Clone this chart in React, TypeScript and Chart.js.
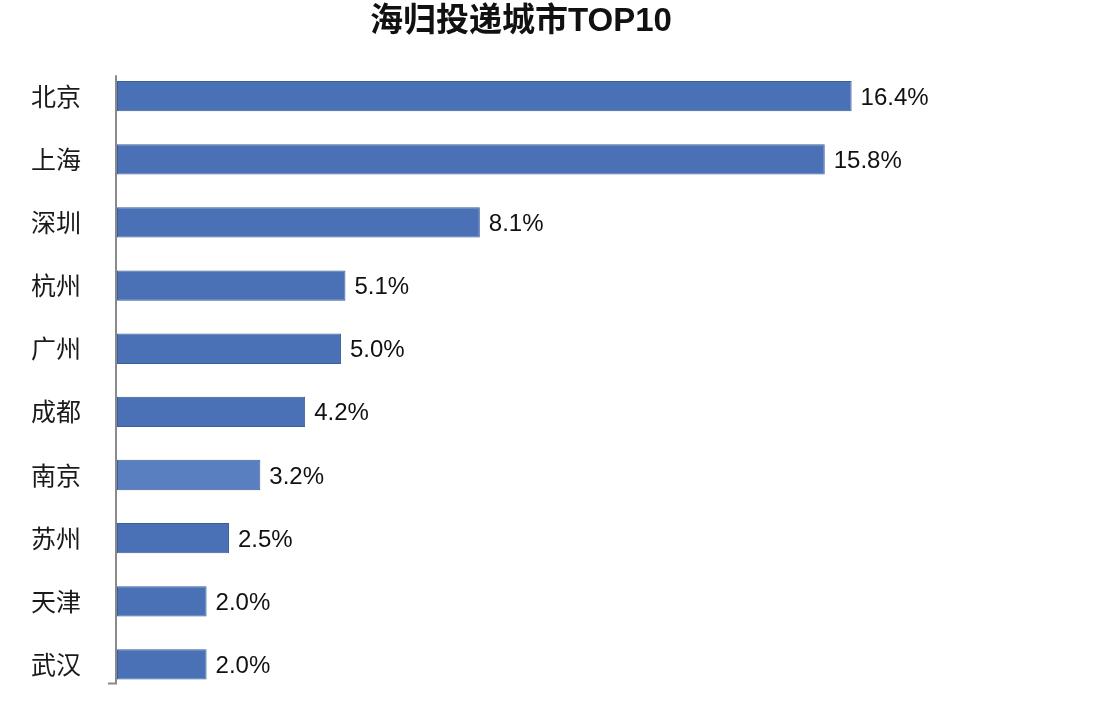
import React, { useEffect, useRef } from "react";
import { Chart, registerables } from "chart.js";

Chart.register(...registerables);

const titleText = "海归投递城市TOP10";
const cities = ["北京", "上海", "深圳", "杭州", "广州", "成都", "南京", "苏州", "天津", "武汉"];
const shares = [16.4, 15.8, 8.1, 5.1, 5.0, 4.2, 3.2, 2.5, 2.0, 2.0];
const barColors = ["#4a71b5", "#4a71b5", "#4a71b5", "#4a71b5", "#4a71b5", "#4a71b5", "#5a7fc0", "#4a71b5", "#4a71b5", "#4a71b5"];

const valueLabels = {
  id: "valueLabels",
  afterDatasetsDraw(chart: any) {
    const { ctx } = chart;
    const meta = chart.getDatasetMeta(0);
    ctx.save();
    ctx.font = '24px "Liberation Sans", Arial, sans-serif';
    ctx.fillStyle = "#111111";
    ctx.textAlign = "left";
    ctx.textBaseline = "middle";
    meta.data.forEach((bar: any, i: number) => {
      ctx.fillText(shares[i].toFixed(1) + "%", bar.x + 9, bar.y + 2);
    });
    ctx.restore();
  },
};

const axisLine = {
  id: "axisLine",
  afterDatasetsDraw(chart: any) {
    const { ctx, chartArea } = chart;
    const y = chart.scales.y;
    const top = y.getPixelForValue(0) - 21;
    const bottom = y.getPixelForValue(cities.length - 1) + 20;
    const x = chartArea.left - 1;
    ctx.save();
    ctx.strokeStyle = "#8a8a8a";
    ctx.lineWidth = 2;
    ctx.beginPath();
    ctx.moveTo(x, top);
    ctx.lineTo(x, bottom);
    ctx.moveTo(x, bottom - 1);
    ctx.lineTo(x - 8, bottom - 1);
    ctx.stroke();
    ctx.restore();
  },
};

export default function App() {
  const ref = useRef<HTMLCanvasElement>(null);
  useEffect(() => {
    document.body.style.margin = "0";
    const chart = new Chart(ref.current!, {
      type: "bar",
      data: {
        labels: cities,
        datasets: [
          {
            data: shares,
            backgroundColor: barColors,
            borderColor: "#3a5c98",
            borderWidth: 1,
            borderSkipped: false,
            barPercentage: 0.48,
            categoryPercentage: 1,
          },
        ],
      },
      options: {
        indexAxis: "y",
        animation: false,
        responsive: false,
        maintainAspectRatio: false,
        layout: { padding: { top: 2, bottom: 10, left: 0, right: 54 } },
        plugins: {
          legend: { display: false },
          tooltip: { enabled: false },
          title: {
            display: true,
            text: titleText,
            color: "#111111",
            font: { family: '"Liberation Sans", "Noto Sans CJK SC", sans-serif', size: 33, weight: "bold" },
            padding: { top: 0, bottom: 23 },
          },
        },
        scales: {
          x: {
            display: false,
            min: 0,
            max: 20.65,
          },
          y: {
            afterFit(scale: any) {
              scale.width = 117;
              scale.paddingTop = 0;
              scale.paddingBottom = 0;
            },
            border: { display: false },
            grid: { display: false, drawTicks: false },
            ticks: {
              color: "#1a1a1a",
              padding: 36,
              font: { family: '"Noto Sans CJK SC", sans-serif', size: 25 },
            },
          },
        },
      },
      plugins: [valueLabels, axisLine],
    });
    return () => chart.destroy();
  }, []);
  return (
    <div style={{ width: 1096, height: 706, background: "#ffffff" }}>
      <canvas ref={ref} width={1096} height={706} />
    </div>
  );
}
